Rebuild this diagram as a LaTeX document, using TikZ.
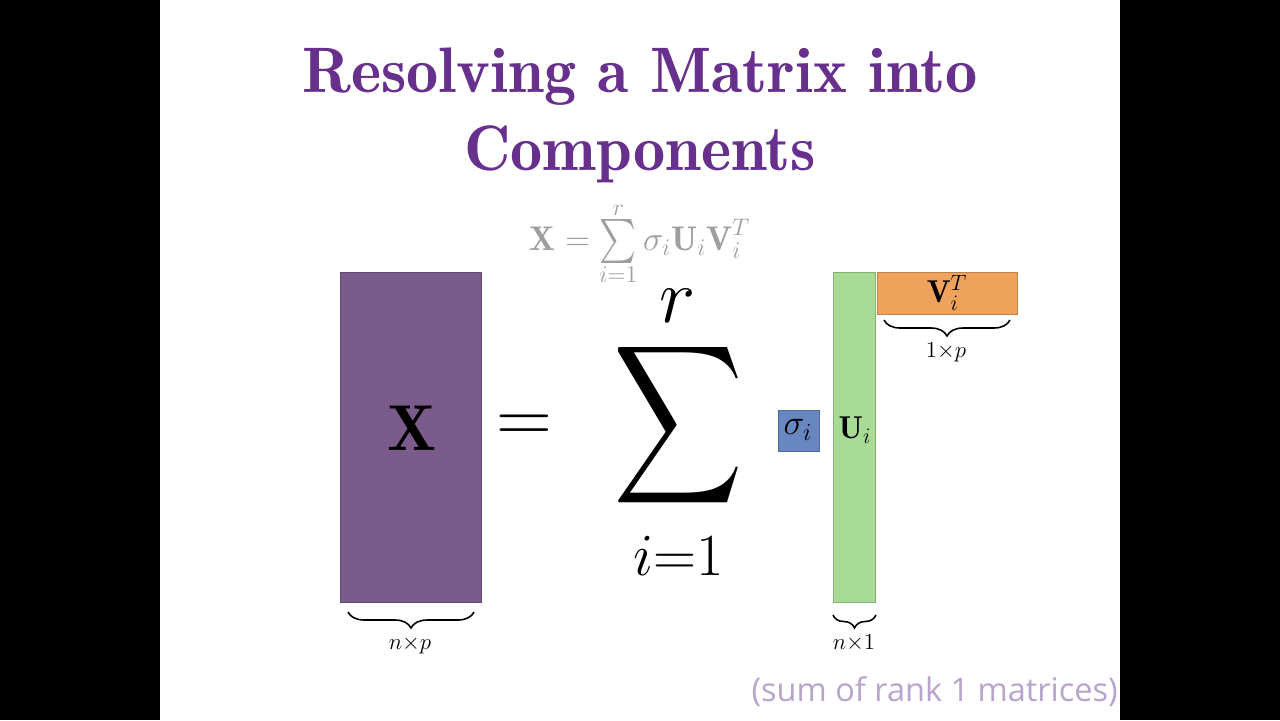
\RequirePackage{fix-cm}
\documentclass[tikz,border=0pt]{standalone}
\usepackage{fontspec}
\newfontfamily\notefont{Open Sans}
\usetikzlibrary{decorations.pathreplacing}
\definecolor{titlepurple}{RGB}{102,48,140}
\definecolor{xpurple}{RGB}{123,91,140}
\definecolor{ugreen}{RGB}{168,220,148}
\definecolor{vorange}{RGB}{238,162,92}
\definecolor{sblue}{RGB}{104,134,192}
\definecolor{formgray}{RGB}{158,158,158}
\definecolor{notepurple}{RGB}{184,164,204}
\newcommand{\graysum}{\mathop{\vcenter{\hbox{\resizebox*{0.74cm}{0.88cm}{$\sum$}}}}\limits}
\tikzset{
  titletext/.style={font=\fontsize{36.6}{44}\fontseries{b}\selectfont, text=titlepurple, inner sep=0, anchor=base},
  matbox/.style={inner sep=0, outer sep=0, anchor=north west, draw=#1!80!black, line width=0.4pt, fill=#1},
  bigbrace/.style={decorate, decoration={brace, mirror, amplitude=#1}, line width=0.9pt},
  dimlabel/.style={font=\fontsize{13}{15}\selectfont, inner sep=0},
}
\begin{document}
\begin{tikzpicture}[x=0.02cm,y=-0.02cm]
\fill[black] (0,0) rectangle (1280,720);
\fill[white] (160,0) rectangle (1120,720);
\useasboundingbox (0,0) rectangle (1280,720);

% title
\node[titletext] (t1) at (640,92) {Resolving a Matrix into};
\node[titletext] (t2) at (640,170) {Components};

% gray formula
\node[text=formgray, inner sep=0, anchor=base, font=\fontsize{19.5}{22}\selectfont] (f) at (640,250)
  {$\displaystyle \mathbf{X} = \graysum_{i=1}^{r} \sigma_i \mathbf{U}_i \mathbf{V}_i^T$};

% matrices
\node[matbox=xpurple, minimum width=2.82cm, minimum height=6.6cm] (X) at (340,272) {};
\node[matbox=ugreen, minimum width=0.84cm, minimum height=6.6cm] (U) at (833,272) {};
\node[matbox=vorange, minimum width=2.8cm, minimum height=0.84cm] (V) at (877,272) {};
\node[matbox=sblue, minimum width=0.82cm, minimum height=0.82cm] (S) at (778,410) {};

\node[font=\fontsize{37}{40}\selectfont, inner sep=0] (Xl) at (412,428) {$\mathbf{X}$};
\node[font=\fontsize{18}{20}\selectfont, inner sep=0] (Ul) at (855,430) {$\mathbf{U}_i$};
\node[font=\fontsize{18}{20}\selectfont, inner sep=0] (Vl) at (947,293) {$\mathbf{V}_i^T$};
\node[font=\fontsize{20}{22}\selectfont, inner sep=0] (Sl) at (798,430) {$\sigma_i$};

% equals and big sum
\node[font=\fontsize{44}{46}\selectfont, inner sep=0] (eq) at (524,429) {$=$};
\node[inner sep=0] (sum) at (679,425) {\resizebox*{2.6cm}{3.55cm}{$\displaystyle\sum$}};
\node[font=\fontsize{44}{46}\selectfont, inner sep=0] (r) at (678,306) {$r$};
\node[font=\fontsize{34}{38}\selectfont, inner sep=0] (i1) at (679,556) {$i{=}1$};

% braces
\coordinate (bx1) at (348,612); \coordinate (bx2) at (474,612);
\coordinate (bu1) at (833,615); \coordinate (bu2) at (876,615);
\coordinate (bv1) at (884,320); \coordinate (bv2) at (1010,320);
\draw[bigbrace=0.32cm] (bx1) -- (bx2);
\draw[bigbrace=0.26cm] (bu1) -- (bu2);
\draw[bigbrace=0.32cm] (bv1) -- (bv2);
\node[dimlabel] (lx) at (410,645) {$n{\times}p$};
\node[dimlabel] (lu) at (854,643) {$n{\times}1$};
\node[dimlabel] (lv) at (946,352) {$1{\times}p$};

% note
\node[anchor=east, inner sep=0, text=notepurple, font=\notefont\fontsize{18.5}{22}\selectfont] (note) at (1118,692) {(sum of rank 1 matrices)};
\end{tikzpicture}
\end{document}
